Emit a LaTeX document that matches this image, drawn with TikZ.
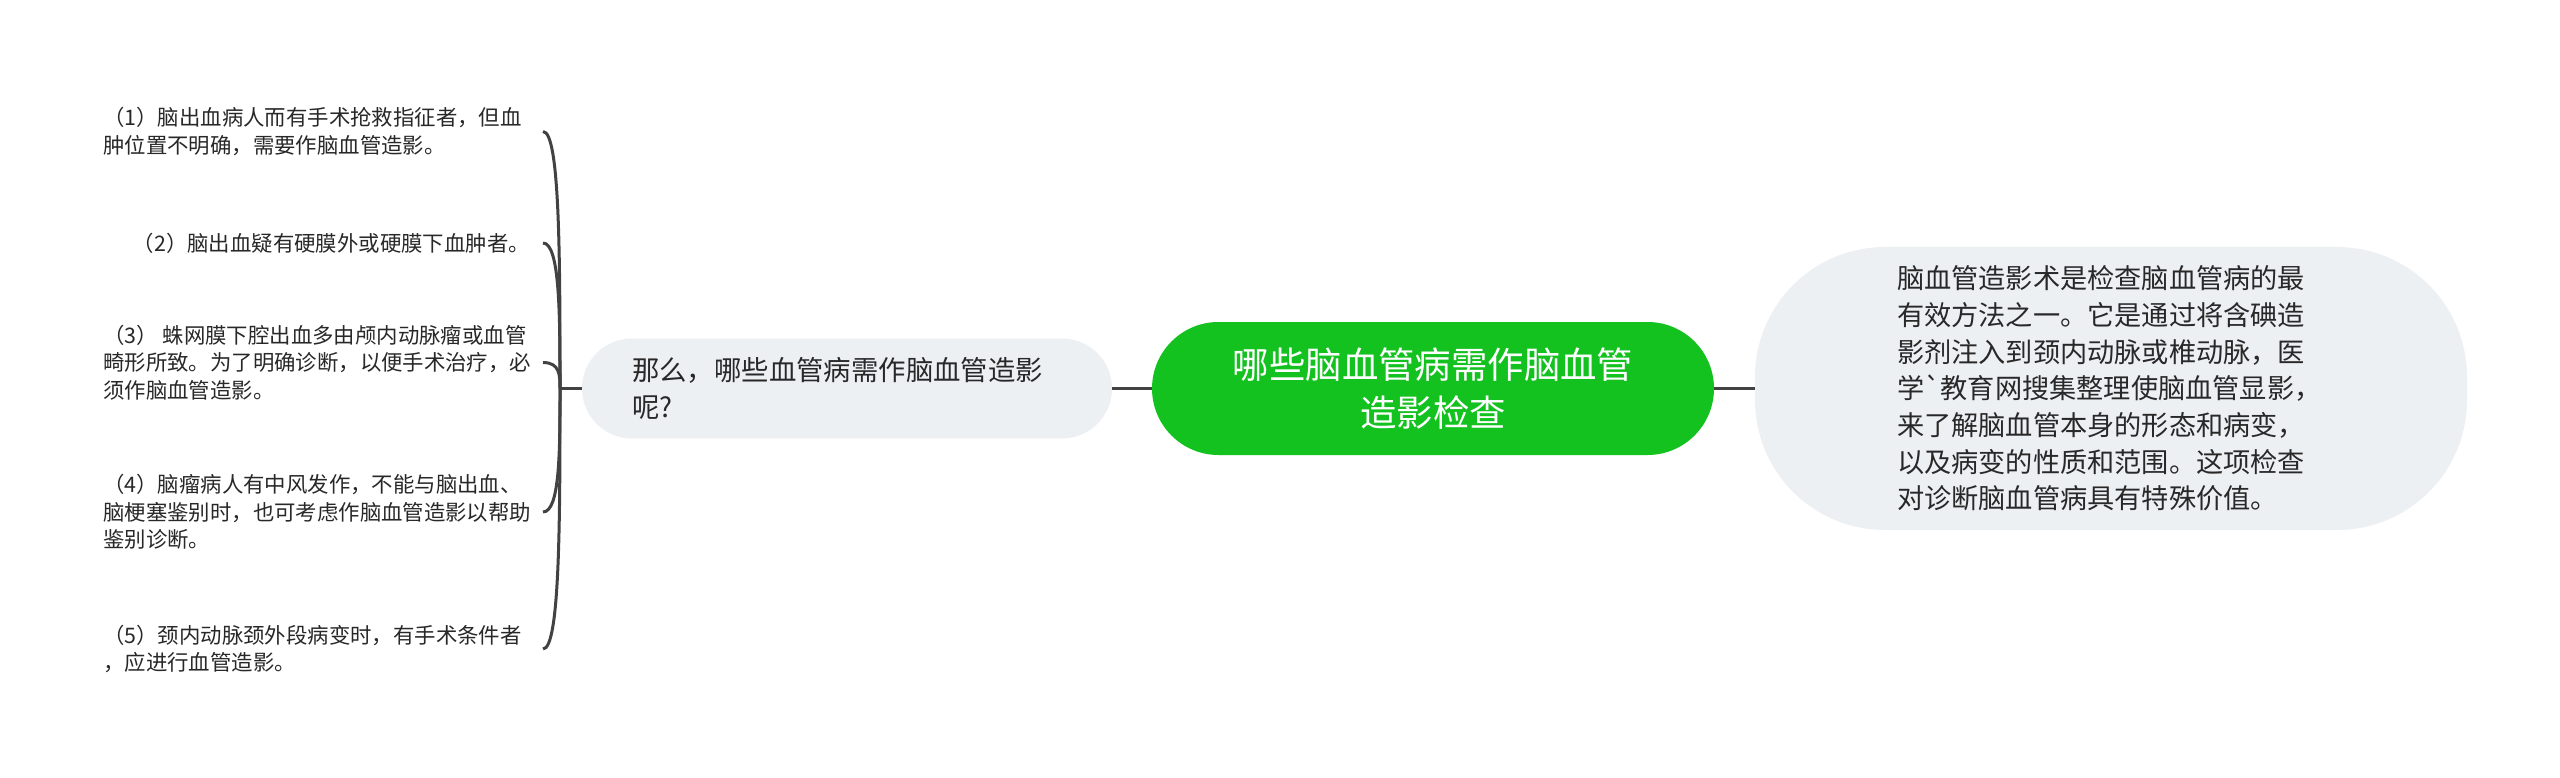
\documentclass[tikz,border=0pt]{standalone}
\usepackage{fontspec}
\newfontfamily\cjk{Noto Sans CJK SC}
\definecolor{rootgreen}{RGB}{19,193,31}
\definecolor{bubblegray}{RGB}{237,240,243}
\definecolor{textdark}{RGB}{40,40,40}
\definecolor{linkgray}{RGB}{66,66,66}
\begin{document}
\begin{tikzpicture}[x=1pt,y=-1pt,
  root/.style={fill=rootgreen, text=white, rounded corners=66.5pt,
    minimum width=562pt, minimum height=133pt, inner sep=0pt, align=center,
    font=\cjk\fontsize{36.4pt}{48pt}\selectfont},
  bubble/.style={fill=bubblegray, text=textdark, align=left, inner ysep=0pt},
  leaf/.style={text=textdark, align=left, inner sep=0pt,
    font=\cjk\fontsize{21.4pt}{27.4pt}\selectfont},
  link/.style={draw=linkgray, line width=3pt}
]
\useasboundingbox (0,0) rectangle (2560,778);
\fill[white] (0,0) rectangle (2560,778);

% central topic
\node[root] (root) at (1433,388.5) {哪些脑血管病需作脑血管\\造影检查};

% left subtopic
\node[bubble, text width=430pt, inner xsep=50pt, minimum height=100pt,
  rounded corners=50pt, font=\cjk\fontsize{27.4pt}{37pt}\selectfont]
  (q) at (847,388.5) {那么，哪些血管病需作脑血管造影\\呢?};

% right subtopic
\node[bubble, text width=428pt, inner xsep=142pt, minimum height=283pt,
  rounded corners=130pt, font=\cjk\fontsize{27.2pt}{36.7pt}\selectfont]
  (a) at (2111,388.5) {脑血管造影术是检查脑血管病的最\\有效方法之一。它是通过将含碘造\\影剂注入到颈内动脉或椎动脉，医\\学\symbol{96}教育网搜集整理使脑血管显影，\\来了解脑血管本身的形态和病变，\\以及病变的性质和范围。这项检查\\对诊断脑血管病具有特殊价值。};

% leaves
\node[leaf, anchor=west] (l1) at (103,131.5) {（1）脑出血病人而有手术抢救指征者，但血\\肿位置不明确，需要作脑血管造影。};
\node[leaf, anchor=east] (l2) at (530,243) {（2）脑出血疑有硬膜外或硬膜下血肿者。};
\node[leaf, anchor=west] (l3) at (103,362.5) {（3） 蛛网膜下腔出血多由颅内动脉瘤或血管\\畸形所致。为了明确诊断，以便手术治疗，必\\须作脑血管造影。};
\node[leaf, anchor=west] (l4) at (103,512) {（4）脑瘤病人有中风发作，不能与脑出血、\\脑梗塞鉴别时，也可考虑作脑血管造影以帮助\\鉴别诊断。};
\node[leaf, anchor=west] (l5) at (103,649) {（5）颈内动脉颈外段病变时，有手术条件者\\，应进行血管造影。};

% connectors
\draw[link] (root.west) -- (q.east);
\draw[link] (root.east) -- (a.west);
\coordinate (trunk) at (560,388.5);
\coordinate (bx) at (543,0);
\draw[link] (q.west) -- (trunk);
\draw[link] (trunk) .. controls (560,260) and (560,131.5) .. (l1.east -| bx);
\draw[link] (trunk) .. controls (560,316) and (560,243) .. (l2.east -| bx);
\draw[link] (trunk) .. controls (560,375.5) and (560,362.5) .. (l3.east -| bx);
\draw[link] (trunk) .. controls (560,450) and (560,512) .. (l4.east -| bx);
\draw[link] (trunk) .. controls (560,519) and (560,649) .. (l5.east -| bx);
\end{tikzpicture}
\end{document}
